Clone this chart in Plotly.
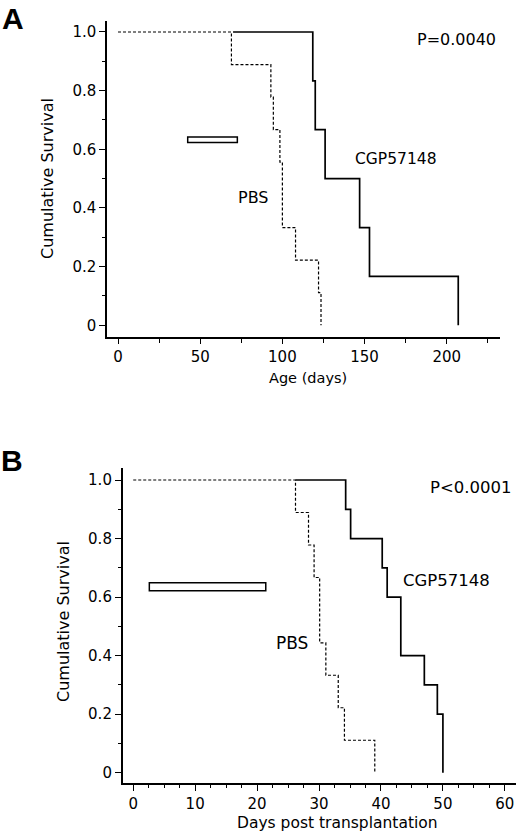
import plotly.graph_objects as go

# Panel A: survival vs age (days)
a_pbs_days = [0, 69, 93, 94.5, 98.5, 100, 108, 122, 123.5]
a_pbs_surv = [1.0, 0.889, 0.778, 0.667, 0.556, 0.333, 0.222, 0.111, 0.0]
a_cgp_days = [70, 118.5, 120, 126, 147, 153, 207]
a_cgp_surv = [1.0, 0.833, 0.667, 0.5, 0.333, 0.167, 0.0]
a_treat_days = [42.4, 72.6]
a_treat_surv = [0.623, 0.642]

# Panel B: survival vs days post transplantation
b_pbs_days = [0, 26.2, 28.3, 29.2, 30.1, 31.1, 33.1, 34.1, 39.0]
b_pbs_surv = [1.0, 0.889, 0.778, 0.667, 0.444, 0.333, 0.222, 0.111, 0.0]
b_cgp_days = [26.2, 34.3, 35.1, 40.2, 41.0, 43.2, 47.0, 49.1, 50.0]
b_cgp_surv = [1.0, 0.9, 0.8, 0.7, 0.6, 0.4, 0.3, 0.2, 0.0]
b_treat_days = [2.6, 21.4]
b_treat_surv = [0.622, 0.649]

y_tickvals = [0, 0.2, 0.4, 0.6, 0.8, 1.0]
y_ticktext = ['0', '0.2', '0.4', '0.6', '0.8', '1.0']

W, H = 520, 834
FONT = 'DejaVu Sans'

fig = go.Figure()

def add_curves(xs, ys, xa, ya, dotted):
    fig.add_trace(go.Scatter(
        x=xs, y=ys, mode='lines', line_shape='hv',
        line=dict(color='black', width=1.2 if dotted else 1.7,
                  dash='3px,2px' if dotted else 'solid'),
        xaxis=xa, yaxis=ya, showlegend=False, hoverinfo='skip'))

add_curves(a_pbs_days, a_pbs_surv, 'x', 'y', True)
add_curves(a_cgp_days, a_cgp_surv, 'x', 'y', False)
add_curves(b_pbs_days, b_pbs_surv, 'x2', 'y2', True)
add_curves(b_cgp_days, b_cgp_surv, 'x2', 'y2', False)

# treatment period bars
fig.add_shape(type='rect', xref='x', yref='y',
              x0=a_treat_days[0], x1=a_treat_days[1], y0=a_treat_surv[0], y1=a_treat_surv[1],
              line=dict(color='black', width=1.5), fillcolor='white')
fig.add_shape(type='rect', xref='x2', yref='y2',
              x0=b_treat_days[0], x1=b_treat_days[1], y0=b_treat_surv[0], y1=b_treat_surv[1],
              line=dict(color='black', width=1.5), fillcolor='white')

def px_to_paper_x(px):
    return px / W

def px_to_paper_y(py):
    return 1 - py / H

axis_common = dict(showline=True, linecolor='black', linewidth=1.5, showgrid=False,
                   zeroline=False, ticks='outside', tickcolor='black', tickwidth=1.3,
                   ticklen=6, tickfont=dict(family=FONT, size=15, color='black'))

fig.update_layout(
    width=W, height=H, margin=dict(l=0, r=0, t=0, b=0),
    paper_bgcolor='white', plot_bgcolor='white',
    xaxis=dict(axis_common, domain=[px_to_paper_x(107), px_to_paper_x(500)],
               range=[-6.7, 232.4], tickvals=[0, 50, 100, 150, 200], anchor='y',
               minor=dict(dtick=25, tick0=0, ticklen=5, ticks='outside', tickcolor='black', tickwidth=1.3)),
    yaxis=dict(axis_common, domain=[px_to_paper_y(336.7), px_to_paper_y(20.7)],
               range=[-0.039, 1.0385], tickvals=y_tickvals, ticktext=y_ticktext, anchor='x',
               minor=dict(dtick=0.1, tick0=0, ticklen=3, ticks='outside', tickcolor='black', tickwidth=1.3)),
    xaxis2=dict(axis_common, domain=[px_to_paper_x(122.7), px_to_paper_x(516)],
                range=[-1.7, 61.8], tickvals=[0, 10, 20, 30, 40, 50, 60], anchor='y2',
                minor=dict(dtick=2.5, tick0=0, ticklen=3, ticks='outside', tickcolor='black', tickwidth=1.3)),
    yaxis2=dict(axis_common, domain=[px_to_paper_y(783.3), px_to_paper_y(468.3)],
                range=[-0.036, 1.04], tickvals=y_tickvals, ticktext=y_ticktext, anchor='x2',
                minor=dict(dtick=0.1, tick0=0, ticklen=3, ticks='outside', tickcolor='black', tickwidth=1.3)),
)

def note(text, x, y, size, xref='paper', yref='paper', bold=False, angle=0, yanchor='middle'):
    fig.add_annotation(text='<b>' + text + '</b>' if bold else text,
                       x=x, y=y, xref=xref, yref=yref, showarrow=False,
                       xanchor='center', yanchor=yanchor, textangle=angle,
                       font=dict(family='Liberation Sans' if bold else FONT, size=size, color='black'))

# panel letters and axis titles
note('A', px_to_paper_x(12.5), px_to_paper_y(0), 30, bold=True, yanchor='top')
note('B', px_to_paper_x(11.5), px_to_paper_y(442), 30, bold=True, yanchor='top')
note('Cumulative Survival', px_to_paper_x(47), px_to_paper_y(179), 16, angle=-90)
note('Cumulative Survival', px_to_paper_x(63.3), px_to_paper_y(621.7), 16, angle=-90)
note('Age (days)', px_to_paper_x(308), px_to_paper_y(378), 14.5)
note('Days post transplantation', px_to_paper_x(337), px_to_paper_y(823), 15.5)

# in-plot labels
note('P=0.0040', 206, 0.976, 16, xref='x', yref='y')
note('CGP57148', 169, 0.568, 15.5, xref='x', yref='y')
note('PBS', 82.4, 0.434, 16, xref='x', yref='y')
note('P<0.0001', 54.6, 0.975, 16.5, xref='x2', yref='y2')
note('CGP57148', 50.6, 0.656, 16.5, xref='x2', yref='y2')
note('PBS', 25.6, 0.442, 17, xref='x2', yref='y2')

# drop the default page margin so the figure sits at the window's corner
fig.write_html('out.html', config={'displayModeBar': False},
               post_script="document.body.style.margin='0';document.body.style.overflow='hidden';")
